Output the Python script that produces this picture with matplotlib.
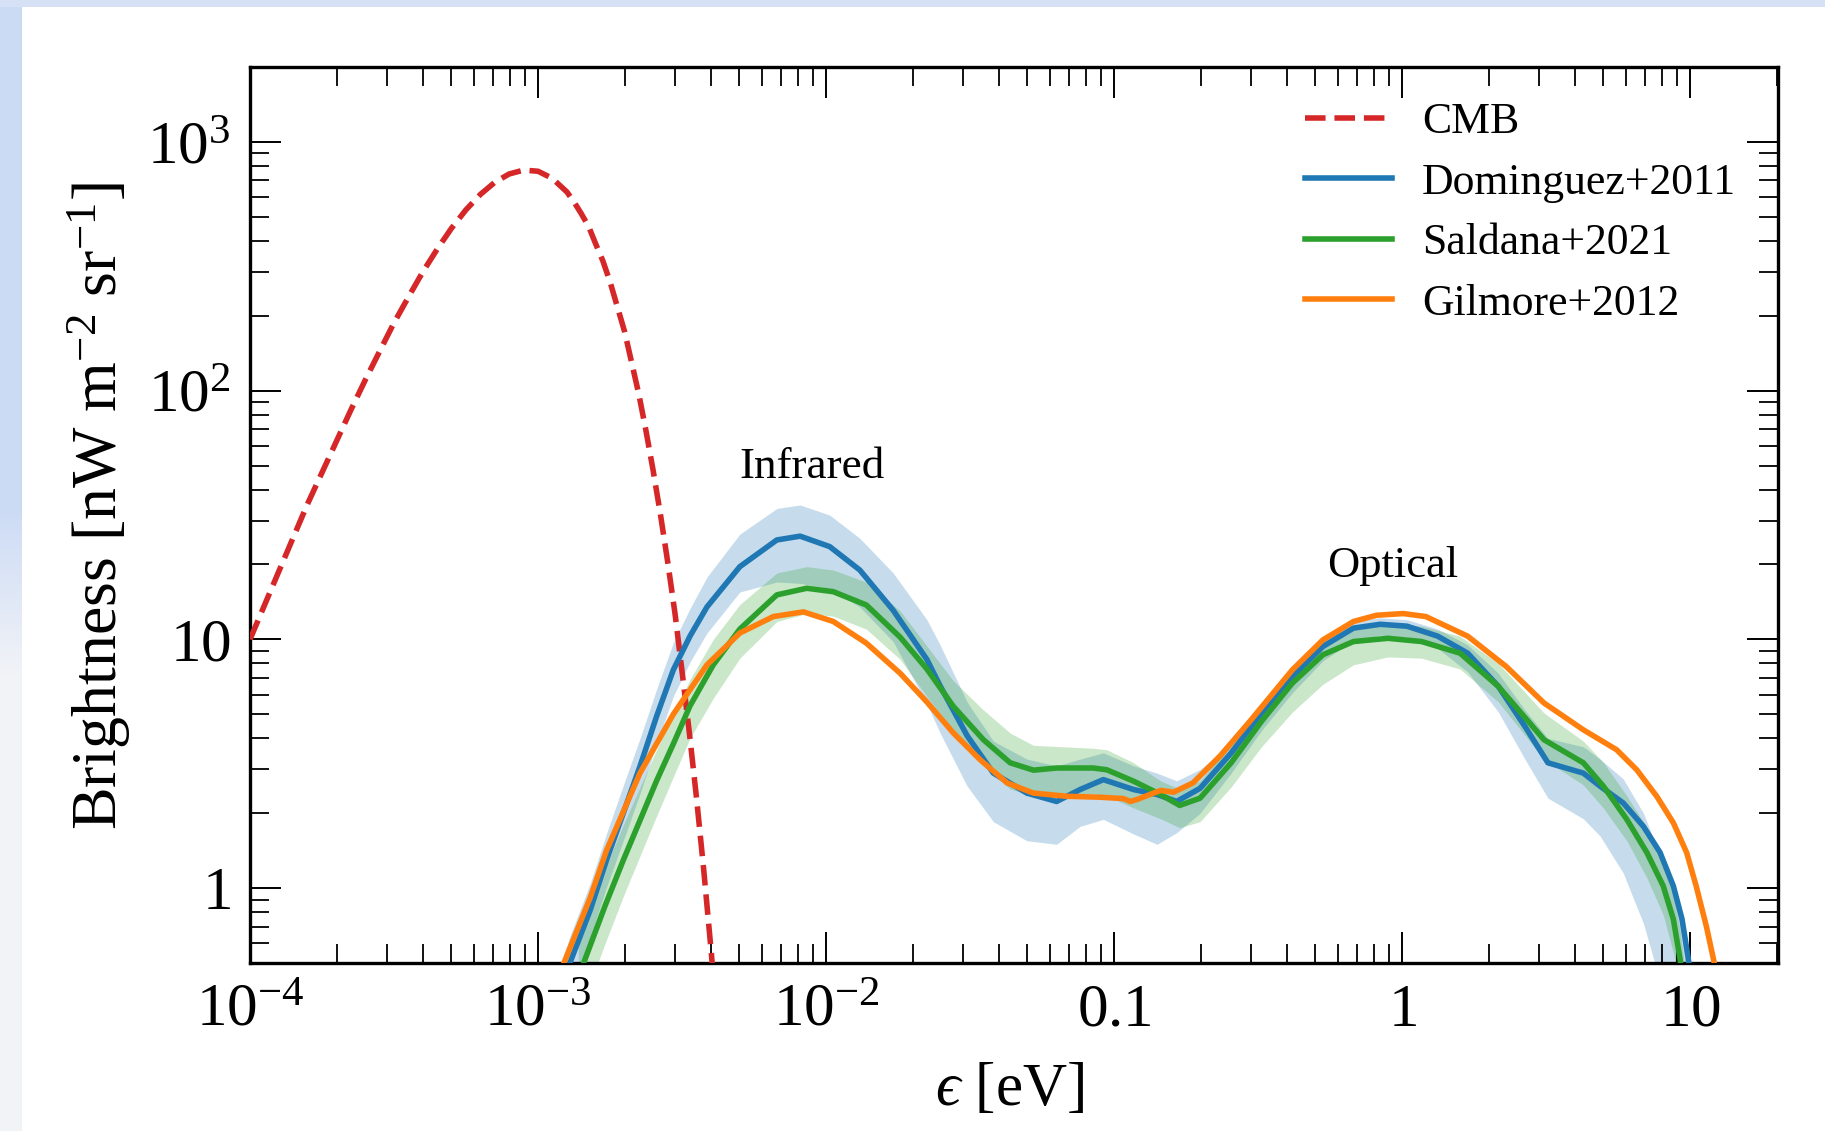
import numpy as np
import matplotlib
matplotlib.use("Agg")
import matplotlib.pyplot as plt
from matplotlib.patches import Rectangle
from matplotlib.ticker import FixedLocator, FixedFormatter, LogLocator, NullFormatter

# ---------------------------------------------------------------- data
# CMB blackbody brightness, epsilon [eV] vs nu I_nu [nW m^-2 sr^-1]
cmb_e = [1.0e-4, 1.26e-4, 1.58e-4, 2.0e-4, 2.24e-4, 2.51e-4, 2.82e-4, 3.16e-4,
         3.55e-4, 3.98e-4, 4.47e-4, 5.01e-4, 5.62e-4, 6.31e-4, 7.08e-4, 7.94e-4,
         8.91e-4, 1.0e-3, 1.12e-3, 1.26e-3, 1.33e-3, 1.41e-3, 1.50e-3, 1.58e-3,
         1.68e-3, 1.78e-3, 1.88e-3, 2.0e-3, 2.11e-3, 2.24e-3, 2.37e-3, 2.51e-3,
         2.66e-3, 2.82e-3, 2.99e-3, 3.16e-3, 3.35e-3, 3.55e-3, 3.76e-3, 3.98e-3,
         4.17e-3]
cmb_b = [10.0, 18.8, 34.8, 62.9, 83.6, 110, 144, 187,
         238, 300, 371, 450, 533, 615, 688, 743,
         770, 762, 714, 629, 576, 517, 456, 393,
         332, 273, 220, 172, 131, 96.5, 69.1, 47.8,
         31.9, 20.5, 12.7, 7.5, 4.26, 2.31, 1.19, 0.58,
         0.31]

# Dominguez+2011 EBL model with uncertainty band
dom_e = [1.23e-3, 1.29e-3, 1.52e-3, 1.73e-3, 1.98e-3, 2.26e-3, 2.58e-3, 2.95e-3,
         3.37e-3, 3.86e-3, 5.02e-3, 6.75e-3, 8.13e-3, 1.03e-2, 1.31e-2, 1.71e-2,
         2.24e-2, 2.49e-2, 3.09e-2, 3.81e-2, 4.98e-2, 6.32e-2, 7.62e-2, 9.18e-2,
         0.117, 0.141, 0.165, 0.199, 0.255, 0.325, 0.416, 0.531,
         0.678, 0.840, 1.04, 1.33, 1.69, 2.16, 2.67, 3.21,
         4.26, 4.87, 5.86, 6.89, 7.87, 8.75, 9.38, 9.86, 10.2]
dom_b = [0.42, 0.50, 0.82, 1.30, 2.01, 3.09, 4.90, 7.54,
         10.3, 13.5, 19.6, 25.1, 26.0, 23.6, 19.0, 13.1,
         8.3, 6.5, 4.1, 2.9, 2.41, 2.23, 2.49, 2.73,
         2.49, 2.38, 2.23, 2.52, 3.49, 5.06, 7.09, 9.36,
         11.1, 11.5, 11.3, 10.3, 8.8, 6.47, 4.47, 3.19,
         2.90, 2.57, 2.20, 1.77, 1.39, 1.02, 0.75, 0.52, 0.38]
dom_lo = [0.33, 0.39, 0.64, 1.01, 1.56, 2.4, 3.8, 5.9,
          8.1, 10.6, 15.5, 17.0, 16.8, 16.0, 13.5, 9.8,
          5.5, 4.2, 2.57, 1.85, 1.55, 1.50, 1.77, 1.89,
          1.65, 1.50, 1.67, 2.0, 2.9, 4.3, 6.1, 8.2,
          9.9, 10.4, 10.2, 9.2, 7.4, 5.1, 3.3, 2.3,
          1.9, 1.62, 1.15, 0.72, 0.42, 0.30, 0.25, 0.20, 0.18]
dom_hi = [0.54, 0.64, 1.05, 1.66, 2.6, 4.0, 6.3, 9.7,
          13.3, 17.8, 26.5, 33.6, 34.7, 31.6, 25.5, 18.5,
          12.0, 9.5, 5.6, 3.9, 3.3, 3.1, 3.3, 3.5,
          3.1, 2.9, 2.7, 3.0, 3.8, 5.5, 7.8, 10.2,
          11.9, 12.2, 12.0, 11.0, 9.5, 7.3, 5.2, 4.0,
          3.7, 3.3, 2.75, 2.0, 1.35, 1.0, 0.78, 0.55, 0.45]

# Saldana+2021 EBL model with uncertainty band
sal_e = [1.38e-3, 1.44e-3, 1.71e-3, 1.98e-3, 2.58e-3, 2.95e-3, 3.37e-3, 4.06e-3,
         5.02e-3, 6.75e-3, 8.57e-3, 1.06e-2, 1.38e-2, 1.81e-2, 2.24e-2, 2.77e-2,
         3.52e-2, 4.36e-2, 5.25e-2, 6.32e-2, 8.47e-2, 9.44e-2, 0.117, 0.145,
         0.169, 0.199, 0.255, 0.325, 0.416, 0.531, 0.678, 0.893,
         1.17, 1.59, 2.16, 3.11, 4.26, 5.00, 6.03, 7.08,
         8.07, 8.75, 9.23, 9.55]
sal_b = [0.42, 0.50, 0.85, 1.30, 2.7, 3.8, 5.4, 7.9,
         11.0, 15.1, 16.05, 15.55, 13.75, 10.2, 7.6, 5.37,
         3.95, 3.19, 2.98, 3.04, 3.04, 2.99, 2.69, 2.38,
         2.15, 2.30, 3.19, 4.68, 6.67, 8.67, 9.80, 10.1,
         9.80, 8.80, 6.47, 3.95, 3.19, 2.57, 1.89, 1.39,
         1.02, 0.75, 0.52, 0.38]
sal_lo = [0.29, 0.35, 0.6, 0.93, 1.95, 2.8, 4.0, 5.8,
          8.4, 11.8, 12.7, 12.4, 11.0, 8.3, 5.9, 4.3,
          3.1, 2.5, 2.35, 2.4, 2.4, 2.35, 2.1, 1.9,
          1.75, 1.85, 2.55, 3.7, 5.1, 6.6, 7.9, 8.5,
          8.4, 7.6, 5.6, 3.3, 2.6, 2.1, 1.55, 1.1,
          0.78, 0.55, 0.40, 0.30]
sal_hi = [0.58, 0.69, 1.2, 1.8, 3.6, 5.0, 6.9, 10.0,
          13.8, 18.5, 19.6, 19.0, 17.0, 13.0, 9.4, 6.8,
          5.2, 4.2, 3.75, 3.71, 3.65, 3.60, 3.19, 2.7,
          2.5, 2.7, 3.8, 5.5, 7.8, 10.0, 11.3, 11.6,
          11.3, 10.3, 8.0, 5.06, 3.9, 3.2, 2.35, 1.75,
          1.3, 0.95, 0.68, 0.50]

# Gilmore+2012 EBL model
gil_e = [1.18e-3, 1.23e-3, 1.52e-3, 1.73e-3, 2.26e-3, 2.95e-3, 3.86e-3, 5.02e-3,
         6.56e-3, 8.34e-3, 1.06e-2, 1.38e-2, 1.81e-2, 2.24e-2, 2.77e-2, 3.43e-2,
         4.25e-2, 5.25e-2, 6.86e-2, 8.93e-2, 0.108, 0.114, 0.120, 0.145,
         0.161, 0.188, 0.233, 0.297, 0.416, 0.531, 0.678, 0.815,
         1.01, 1.21, 1.69, 2.30, 3.11, 4.26, 5.56, 6.53,
         7.66, 8.75, 9.73, 10.5, 11.4, 12.05, 12.6]
gil_b = [0.42, 0.50, 0.92, 1.42, 2.90, 5.0, 7.9, 10.6,
         12.35, 12.9, 11.8, 9.66, 7.3, 5.6, 4.2, 3.28,
         2.65, 2.41, 2.34, 2.32, 2.29, 2.23, 2.27, 2.47,
         2.43, 2.65, 3.39, 4.7, 7.54, 9.95, 11.8, 12.5,
         12.7, 12.35, 10.3, 7.78, 5.55, 4.33, 3.60, 2.99,
         2.34, 1.83, 1.39, 1.02, 0.70, 0.52, 0.40]

x_ticks = [1e-4, 1e-3, 1e-2, 0.1, 1, 10]
x_tick_labels = [r"$10^{-4}$", r"$10^{-3}$", r"$10^{-2}$", r"$0.1$", r"$1$", r"$10$"]
y_ticks = [1, 10, 100, 1000]
y_tick_labels = [r"$1$", r"$10$", r"$10^{2}$", r"$10^{3}$"]

# ---------------------------------------------------------------- style
plt.rcParams["font.family"] = ["Liberation Serif", "DejaVu Serif"]
plt.rcParams["mathtext.fontset"] = "custom"
plt.rcParams["mathtext.rm"] = "Liberation Serif"
plt.rcParams["mathtext.it"] = "Liberation Serif:italic"
plt.rcParams["mathtext.bf"] = "Liberation Serif:bold"
plt.rcParams["mathtext.fallback"] = "stixsans"

C_RED, C_BLUE, C_GREEN, C_ORANGE = "#d62728", "#1f77b4", "#2ca02c", "#ff7f0e"
LW = 4.0

fig = plt.figure(figsize=(18.25, 11.31), dpi=100)
fig.patch.set_facecolor("white")

# pale slide border along the left edge (bluish at the top, fading to grey)
strip = fig.add_axes([0, 0, 22 / 1825, 1], zorder=-5)
rows = np.linspace(0, 1, 256)[:, None]
top_col = np.array([0.80, 0.86, 0.96])
bot_col = np.array([0.95, 0.955, 0.97])
mix = np.clip((rows - 0.45) / 0.15, 0, 1)
grad = (1 - mix)[..., None] * top_col + mix[..., None] * bot_col
strip.imshow(grad.reshape(256, 1, 3), aspect="auto", interpolation="bilinear")
strip.set_axis_off()
fig.add_artist(Rectangle((0, 1 - 7 / 1131), 1, 7 / 1131, transform=fig.transFigure,
                         facecolor="#d6e1f5", edgecolor="none", zorder=-4))

ax = fig.add_axes([250 / 1825, 1 - 963 / 1131, 1528 / 1825, 896 / 1131])
ax.set_xscale("log")
ax.set_yscale("log")
ax.set_xlim(1e-4, 20.2)
ax.set_ylim(0.5, 2000)

# uncertainty bands
ax.fill_between(dom_e, dom_lo, dom_hi, color=C_BLUE, alpha=0.25, lw=0, zorder=1)
ax.fill_between(sal_e, sal_lo, sal_hi, color=C_GREEN, alpha=0.25, lw=0, zorder=1.1)

ax.plot(cmb_e, cmb_b, color=C_RED, lw=LW, ls="--", label="CMB", zorder=3)
ax.plot(dom_e, dom_b, color=C_BLUE, lw=LW, label="Dominguez+2011", zorder=3)
ax.plot(sal_e, sal_b, color=C_GREEN, lw=LW, label="Saldana+2021", zorder=3)
ax.plot(gil_e, gil_b, color=C_ORANGE, lw=LW, label="Gilmore+2012", zorder=3)

ax.text(8.92e-3, 44.4, "Infrared", fontsize=32.5, ha="center", va="baseline")
ax.text(0.928, 17.8, "Optical", fontsize=32, ha="center", va="baseline")

# ticks
ax.xaxis.set_major_locator(FixedLocator(x_ticks))
ax.xaxis.set_major_formatter(FixedFormatter(x_tick_labels))
ax.yaxis.set_major_locator(FixedLocator(y_ticks))
ax.yaxis.set_major_formatter(FixedFormatter(y_tick_labels))
for axis in (ax.xaxis, ax.yaxis):
    axis.set_minor_locator(LogLocator(base=10, subs=[2, 3, 4, 5, 6, 7, 8, 9], numticks=100))
    axis.set_minor_formatter(NullFormatter())

ax.tick_params(which="both", direction="in", top=True, right=True, colors="black")
ax.tick_params(which="major", length=22, width=1.4)
ax.tick_params(which="minor", length=14, width=1.3)
ax.tick_params(axis="y", which="major", labelsize=44, pad=14)
ax.tick_params(axis="x", which="major", labelsize=44, pad=45)
for lab in ax.get_xticklabels():
    lab.set_verticalalignment("baseline")

for sp in ax.spines.values():
    sp.set_linewidth(2.4)

ax.set_xlabel("$\u03f5$ [eV]", fontsize=44)
ax.set_ylabel(r"Brightness [nW m$^{-2}$ sr$^{-1}$]", fontsize=46)
ax.xaxis.set_label_coords(0.4974, -0.1105)
ax.yaxis.set_label_coords(-0.0765, 0.51)

ax.legend(loc="upper left", bbox_to_anchor=(0.6904, 0.961), frameon=False,
          fontsize=31.5, handlelength=2.0, handletextpad=0.68, labelspacing=0.47,
          borderpad=0, borderaxespad=0)

fig.savefig("out.png", dpi=100, facecolor=fig.get_facecolor())
